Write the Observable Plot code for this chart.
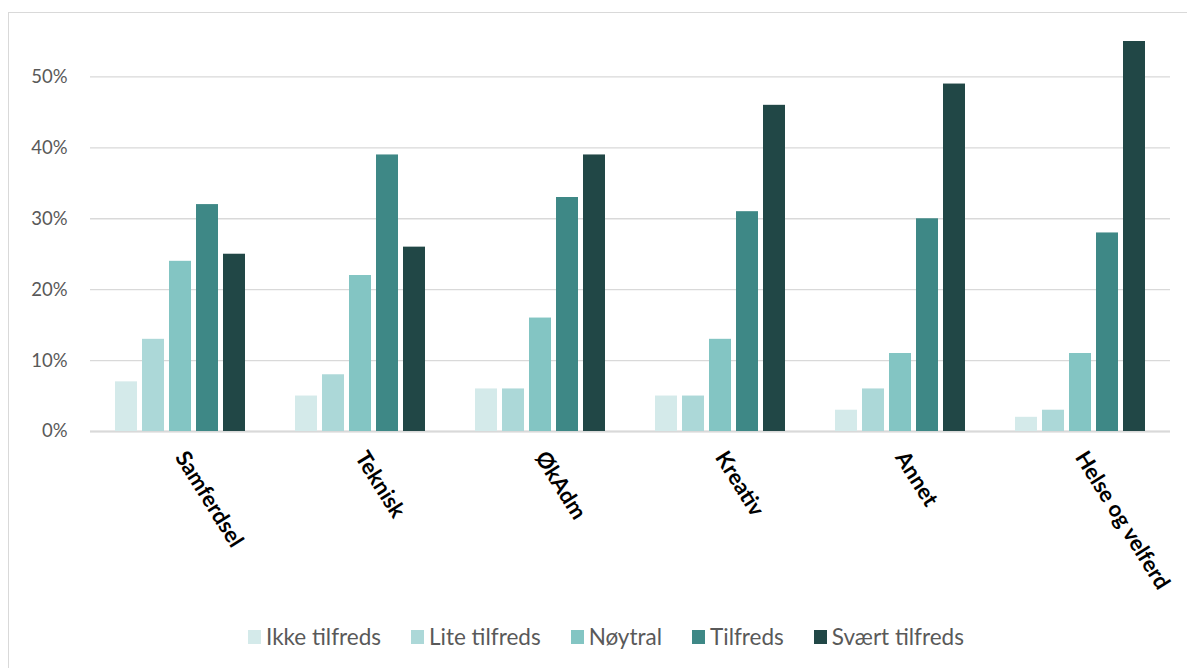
<!DOCTYPE html>
<html>
<head>
<meta charset="utf-8">
<script src="https://cdn.jsdelivr.net/npm/d3@7"></script>
<script src="https://cdn.jsdelivr.net/npm/@observablehq/plot@0.6"></script>
<style>
  body { margin: 0; background: #fff; width: 1187px; height: 668px; overflow: hidden; position: relative; font-family: Lato, "Noto Sans", sans-serif; }
  #frame { position: absolute; left: 8px; top: 12px; width: 1300px; height: 800px; border: 1px solid #d9d9d9; box-sizing: border-box; }
  #chart { position: absolute; left: 0; top: 0; }
  #legend { position: absolute; left: 0; width: 1212px; top: 623px; display: flex; justify-content: center; gap: 30px; font-size: 22.5px; color: #595959; }
  .item { display: flex; align-items: center; gap: 5px; }
  .sw { width: 13px; height: 14px; display: inline-block; }
</style>
</head>
<body>
<div id="frame"></div>
<div id="chart"></div>
<div id="legend"></div>
<script>
const categories = ["Samferdsel", "Teknisk", "ØkAdm", "Kreativ", "Annet", "Helse og velferd"];
const series = ["Ikke tilfreds", "Lite tilfreds", "Nøytral", "Tilfreds", "Svært tilfreds"];
const colors = ["#d4eaea", "#acd8d8", "#83c5c3", "#3e8886", "#214746"];
const ikkeTilfreds = [0.07, 0.05, 0.06, 0.05, 0.03, 0.02];
const liteTilfreds = [0.13, 0.08, 0.06, 0.05, 0.06, 0.03];
const noytral = [0.24, 0.22, 0.16, 0.13, 0.11, 0.11];
const tilfreds = [0.32, 0.39, 0.33, 0.31, 0.30, 0.28];
const svaertTilfreds = [0.25, 0.26, 0.39, 0.46, 0.49, 0.55];
const yTicks = [0, 0.1, 0.2, 0.3, 0.4, 0.5];

const seriesValues = [ikkeTilfreds, liteTilfreds, noytral, tilfreds, svaertTilfreds];
const data = [];
categories.forEach((c, i) => series.forEach((s, j) => data.push({category: c, series: s, value: seriesValues[j][i]})));

const plot = Plot.plot({
  width: 1187,
  height: 600,
  marginTop: 41,
  marginBottom: 169,
  marginLeft: 114,
  marginRight: 41,
  style: {fontFamily: "Lato, 'Noto Sans', sans-serif", background: "transparent"},
  fx: {domain: categories, paddingInner: 0.267, paddingOuter: 0},
  x: {domain: series, paddingInner: 0.2, paddingOuter: 0, axis: null},
  y: {domain: [0, 0.55]},
  color: {domain: series, range: colors},
  marks: [
    Plot.gridY(yTicks, {stroke: "#d9d9d9", strokeOpacity: 1, strokeWidth: 1.3, insetLeft: -24, insetRight: -24}),
    Plot.ruleY([0], {stroke: "#d9d9d9", strokeWidth: 2, insetLeft: -24, insetRight: -24}),
    Plot.barY(data, {fx: "category", x: "series", y: "value", fill: "series"}),
    Plot.axisY(yTicks, {tickFormat: d3.format(".0%"), tickSize: 0, tickPadding: 47, fontSize: 18.5, fill: "#595959", label: null}),
    Plot.axisFx({anchor: "bottom", tickRotate: 58, tickSize: 0, tickPadding: 22, fontSize: 22, fontWeight: "bold", fill: "#000", label: null})
  ]
});
document.getElementById("chart").appendChild(plot);

const legend = document.getElementById("legend");
series.forEach((s, i) => {
  const item = document.createElement("div");
  item.className = "item";
  const sw = document.createElement("span");
  sw.className = "sw";
  sw.style.background = colors[i];
  const t = document.createElement("span");
  t.textContent = s;
  item.appendChild(sw);
  item.appendChild(t);
  legend.appendChild(item);
});
</script>
</body>
</html>
